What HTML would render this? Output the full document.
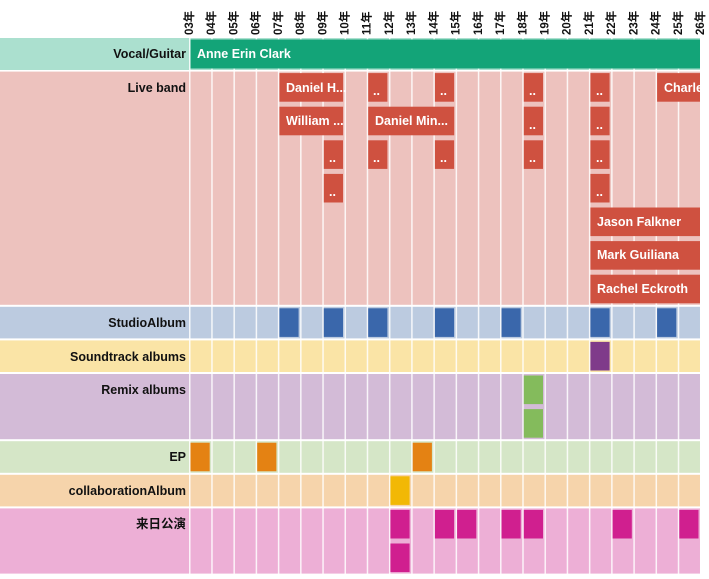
<!DOCTYPE html>
<html><head><meta charset="utf-8"><style>
html,body{margin:0;padding:0;background:#fff;width:709px;height:579px;overflow:hidden}
text{font-family:"Liberation Sans","Noto Sans CJK SC",sans-serif;font-weight:bold}
</style></head><body>
<svg width="709" height="579" xmlns="http://www.w3.org/2000/svg">
<defs>
<pattern id="g" x="189" y="0" width="22.217" height="600" patternUnits="userSpaceOnUse">
<rect x="0" y="0" width="1.5" height="600" fill="#fff" opacity="0.85"/>
</pattern>
<clipPath id="cp"><rect x="0" y="0" width="700" height="579"/></clipPath>
</defs>
<!-- row backgrounds -->
<rect x="0" y="38" width="700" height="32" fill="#abe0cf"/>
<rect x="0" y="71.6" width="700" height="233.2" fill="#edc2be"/>
<rect x="0" y="306.8" width="700" height="31.6" fill="#bccbe0"/>
<rect x="0" y="340.4" width="700" height="31.6" fill="#fae4a6"/>
<rect x="0" y="374" width="700" height="65.2" fill="#d3bbd7"/>
<rect x="0" y="441.2" width="700" height="31.6" fill="#d5e6c7"/>
<rect x="0" y="474.8" width="700" height="31.6" fill="#f6d4ab"/>
<rect x="0" y="508.4" width="700" height="65.2" fill="#edafd6"/>
<rect x="188" y="38" width="520" height="540" fill="url(#g)"/>
<rect x="700" y="30" width="9" height="549" fill="#fff"/>
<!-- labels -->
<g font-size="12.5" text-anchor="end" fill="#111">
<text x="186" y="58">Vocal/Guitar</text>
<text x="186" y="92">Live band</text>
<text x="186" y="327">StudioAlbum</text>
<text x="186" y="361">Soundtrack albums</text>
<text x="186" y="394">Remix albums</text>
<text x="186" y="461">EP</text>
<text x="186" y="495">collaborationAlbum</text>
<text x="186" y="528">来日公演</text>
</g>
<!-- year ticks -->
<g font-size="11.5" fill="#111">
<text transform="translate(193,35) rotate(-90)">03年</text>
<text transform="translate(215.2,35) rotate(-90)">04年</text>
<text transform="translate(237.4,35) rotate(-90)">05年</text>
<text transform="translate(259.7,35) rotate(-90)">06年</text>
<text transform="translate(281.9,35) rotate(-90)">07年</text>
<text transform="translate(304.1,35) rotate(-90)">08年</text>
<text transform="translate(326.3,35) rotate(-90)">09年</text>
<text transform="translate(348.5,35) rotate(-90)">10年</text>
<text transform="translate(370.7,35) rotate(-90)">11年</text>
<text transform="translate(392.9,35) rotate(-90)">12年</text>
<text transform="translate(415.2,35) rotate(-90)">13年</text>
<text transform="translate(437.4,35) rotate(-90)">14年</text>
<text transform="translate(459.6,35) rotate(-90)">15年</text>
<text transform="translate(481.8,35) rotate(-90)">16年</text>
<text transform="translate(504,35) rotate(-90)">17年</text>
<text transform="translate(526.3,35) rotate(-90)">18年</text>
<text transform="translate(548.5,35) rotate(-90)">19年</text>
<text transform="translate(570.7,35) rotate(-90)">20年</text>
<text transform="translate(592.9,35) rotate(-90)">21年</text>
<text transform="translate(615.1,35) rotate(-90)">22年</text>
<text transform="translate(637.3,35) rotate(-90)">23年</text>
<text transform="translate(659.6,35) rotate(-90)">24年</text>
<text transform="translate(681.8,35) rotate(-90)">25年</text>
<text transform="translate(704,35) rotate(-90)">26年</text>
</g>
<!-- vocal -->
<rect x="190.5" y="39.5" width="509.5" height="29" fill="#13a478"/>
<text x="197" y="58" font-size="12.5" fill="#fff">Anne Erin Clark</text>
<!-- live band -->
<g fill="#cf5140">
<rect x="279.4" y="73.1" width="63.7" height="28.6"/>
<rect x="368.2" y="73.1" width="19.2" height="28.6"/>
<rect x="434.9" y="73.1" width="19.2" height="28.6"/>
<rect x="523.8" y="73.1" width="19.2" height="28.6"/>
<rect x="590.4" y="73.1" width="19.2" height="28.6"/>
<rect x="657.1" y="73.1" width="42.9" height="28.6"/>
<rect x="279.4" y="106.7" width="63.7" height="28.6"/>
<rect x="368.2" y="106.7" width="86" height="28.6"/>
<rect x="523.8" y="106.7" width="19.2" height="28.6"/>
<rect x="590.4" y="106.7" width="19.2" height="28.6"/>
<rect x="323.8" y="140.3" width="19.2" height="28.6"/>
<rect x="368.2" y="140.3" width="19.2" height="28.6"/>
<rect x="434.9" y="140.3" width="19.2" height="28.6"/>
<rect x="523.8" y="140.3" width="19.2" height="28.6"/>
<rect x="590.4" y="140.3" width="19.2" height="28.6"/>
<rect x="323.8" y="173.9" width="19.2" height="28.6"/>
<rect x="590.4" y="173.9" width="19.2" height="28.6"/>
<rect x="590.4" y="207.5" width="109.6" height="28.6"/>
<rect x="590.4" y="241.1" width="109.6" height="28.6"/>
<rect x="590.4" y="274.7" width="109.6" height="28.6"/>
</g>
<g font-size="12.5" fill="#fff" clip-path="url(#cp)">
<text x="286" y="92">Daniel H...</text>
<text x="664" y="92">Charle</text>
<text x="286" y="125">William ...</text>
<text x="375" y="125">Daniel Min...</text>
<text x="597" y="226">Jason Falkner</text>
<text x="597" y="259">Mark Guiliana</text>
<text x="597" y="293">Rachel Eckroth</text>
<text x="373" y="95">..</text><text x="440" y="95">..</text><text x="529" y="95">..</text><text x="596" y="95">..</text>
<text x="529" y="129">..</text><text x="596" y="129">..</text>
<text x="329" y="162">..</text><text x="373" y="162">..</text><text x="440" y="162">..</text><text x="529" y="162">..</text><text x="596" y="162">..</text>
<text x="329" y="196">..</text><text x="596" y="196">..</text>
</g>
<!-- studio -->
<g fill="#3a67ab">
<rect x="279.4" y="308.3" width="19.2" height="28.6"/>
<rect x="323.8" y="308.3" width="19.2" height="28.6"/>
<rect x="368.2" y="308.3" width="19.2" height="28.6"/>
<rect x="434.9" y="308.3" width="19.2" height="28.6"/>
<rect x="501.5" y="308.3" width="19.2" height="28.6"/>
<rect x="590.4" y="308.3" width="19.2" height="28.6"/>
<rect x="657.1" y="308.3" width="19.2" height="28.6"/>
</g>
<rect x="590.4" y="341.9" width="19.2" height="28.6" fill="#7f3b8a"/>
<rect x="523.8" y="375.5" width="19.2" height="28.6" fill="#84bb5c"/>
<rect x="523.8" y="409.1" width="19.2" height="28.6" fill="#84bb5c"/>
<g fill="#e48213">
<rect x="190.5" y="442.7" width="19.2" height="28.6"/>
<rect x="257.2" y="442.7" width="19.2" height="28.6"/>
<rect x="412.7" y="442.7" width="19.2" height="28.6"/>
</g>
<rect x="390.4" y="476.3" width="19.2" height="28.6" fill="#f2b805"/>
<g fill="#d01f8f">
<rect x="390.4" y="509.9" width="19.2" height="28.6"/>
<rect x="390.4" y="543.5" width="19.2" height="28.6"/>
<rect x="434.9" y="509.9" width="19.2" height="28.6"/>
<rect x="457.1" y="509.9" width="19.2" height="28.6"/>
<rect x="501.5" y="509.9" width="19.2" height="28.6"/>
<rect x="523.8" y="509.9" width="19.2" height="28.6"/>
<rect x="612.6" y="509.9" width="19.2" height="28.6"/>
<rect x="679.3" y="509.9" width="19.2" height="28.6"/>
</g>
</svg>
</body></html>
